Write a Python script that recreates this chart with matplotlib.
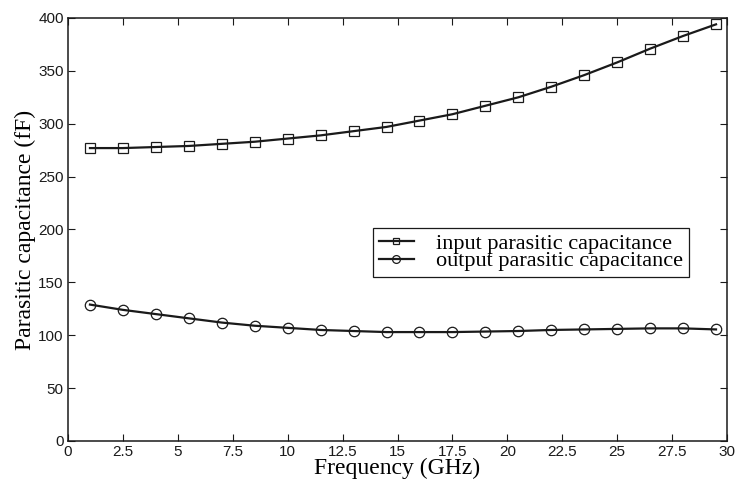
import numpy as np
import matplotlib
matplotlib.use("Agg")
import matplotlib.pyplot as plt

# frequency points (GHz) where markers sit
freq = [1, 2.5, 4, 5.5, 7, 8.5, 10, 11.5, 13, 14.5, 16, 17.5, 19, 20.5, 22, 23.5, 25, 26.5, 28, 29.5]

# parasitic capacitance (fF)
c_in = [277, 277, 278, 279, 281, 283, 286, 289, 293, 297,
        303, 309, 317, 325, 335, 346, 358, 371, 383, 394]
c_out = [129, 124, 120, 116, 112, 109, 107, 105, 104, 103,
         103, 103, 103.5, 104, 105, 105.5, 106, 106.5, 106.5, 105.5]

serif = ["Liberation Serif", "DejaVu Serif"]
sans = ["Liberation Sans", "DejaVu Sans"]

fig = plt.figure(figsize=(7.38, 4.84), dpi=100)
ax = fig.add_axes([68 / 738, 43 / 484, 659 / 738, 423 / 484])

ax.plot(freq, c_in, color="#1a1a1a", lw=1.6, marker="s", ms=6.5,
        mfc="none", mec="#1a1a1a", mew=0.9, label="input parasitic capacitance")
ax.plot(freq, c_out, color="#1a1a1a", lw=1.6, marker="o", ms=7.5,
        mfc="none", mec="#1a1a1a", mew=0.9, label="output parasitic capacitance")

ax.set_xlim(0, 30)
ax.set_ylim(0, 400)
ax.set_xticks(np.arange(0, 30.1, 2.5))
ax.set_xticklabels(["0", "2.5", "5", "7.5", "10", "12.5", "15", "17.5",
                    "20", "22.5", "25", "27.5", "30"])
ax.set_yticks(np.arange(0, 401, 50))

ax.tick_params(direction="in", top=True, right=True, length=5, width=0.8,
               pad=3, labelsize=11, colors="#1a1a1a")
for lab in ax.get_xticklabels() + ax.get_yticklabels():
    lab.set_family(sans)
for sp in ax.spines.values():
    sp.set_linewidth(1.1)
    sp.set_color("#1a1a1a")

ax.set_xlabel("Frequency (GHz)", family=serif, fontsize=17, labelpad=-1)
ax.set_ylabel("Parasitic capacitance (fF)", family=serif, fontsize=17, labelpad=2)

leg = ax.legend(loc="upper left", bbox_to_anchor=(0.463, 0.5035), borderaxespad=0,
                fancybox=False, edgecolor="#1a1a1a", framealpha=1,
                prop={"family": serif, "size": 16}, handlelength=1.6,
                handletextpad=1.0, borderpad=0.25, labelspacing=-0.15, markerscale=0.75)
leg.get_frame().set_linewidth(0.9)

fig.savefig("out.png", dpi=100)
